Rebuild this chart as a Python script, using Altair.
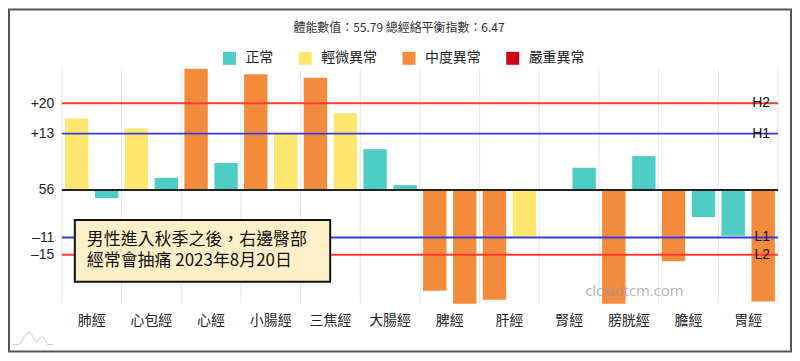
import altair as alt
import pandas as pd

# ---------------- data ----------------
meridians = ["肺經", "心包經", "心經", "小腸經", "三焦經", "大腸經",
             "脾經", "肝經", "腎經", "膀胱經", "膽經", "胃經"]
left_values = [16.5, 14.2, 28.0, 26.7, 25.9, 9.4, -23.3, -25.4, 0.0, -26.3, -16.5, -10.6]
left_status = ["輕微異常", "輕微異常", "中度異常", "中度異常", "中度異常", "正常",
               "中度異常", "中度異常", "正常", "中度異常", "中度異常", "正常"]
right_values = [-1.9, 2.8, 6.2, 12.9, 17.7, 1.1, -26.3, -11.1, 5.1, 7.8, -6.3, -25.8]
right_status = ["正常", "正常", "正常", "輕微異常", "輕微異常", "正常",
                "中度異常", "輕微異常", "正常", "正常", "正常", "中度異常"]

status_names = ["正常", "輕微異常", "中度異常", "嚴重異常"]
status_colors = ["#4ECDC4", "#FFE66D", "#F38B3C", "#D0021B"]

ref_values = [20, 13, 0, -11, -15]
ref_axis_labels = ["+20", "+13", "56", "–11", "–15"]
ref_line_labels = ["H2", "H1", "", "L1", "L2"]
ref_colors = ["#FF3B30", "#3A3AE0", "#222222", "#3A3AE0", "#FF3B30"]

title_text = "體能數值：55.79 總經絡平衡指數：6.47"
note_lines = ["男性進入秋季之後，右邊臀部", "經常會抽痛 2023年8月20日"]
watermark_text = "cloudtcm.com"

CJK = "Noto Sans CJK TC"
LAT = "Liberation Sans"

# ---------------- tables ----------------
bars = pd.DataFrame({
    "meridian": meridians * 2,
    "side": ["L"] * len(meridians) + ["R"] * len(meridians),
    "value": left_values + right_values,
    "status": left_status + right_status,
})
refs = pd.DataFrame({"value": ref_values, "color": ref_colors, "label": ref_line_labels})
grid = pd.DataFrame({"meridian": meridians})
one = pd.DataFrame({"a": [0]})

label_expr = "".join(
    f"datum.value == {v} ? '{t}' : " for v, t in zip(ref_values, ref_axis_labels)
) + "''"

y_scale = alt.Scale(domain=[-26.3, 28.1], nice=False, zero=False)
y_axis = alt.Axis(title=None, values=ref_values, labelExpr=label_expr, domain=False,
                  ticks=False, grid=False, labelFontSize=14, labelFont=LAT,
                  labelColor="#222", labelPadding=8)
x_scale = alt.Scale(paddingInner=0, paddingOuter=0)
x_axis = alt.Axis(title=None, labelAngle=0, domain=False, ticks=False, grid=False,
                  labelFontSize=14, labelFont=CJK, labelColor="#222", labelPadding=10)

gridlines = alt.Chart(grid).mark_rule(color="#e6e6e6", strokeWidth=1).encode(
    x=alt.X("meridian:N", sort=meridians, bandPosition=0, scale=x_scale, axis=x_axis)
)
last_grid = alt.Chart(one).mark_rule(color="#e6e6e6", strokeWidth=1).encode(
    x=alt.value(718), y=alt.value(0), y2=alt.value(236)
)

bar_layer = alt.Chart(bars).mark_bar().encode(
    x=alt.X("meridian:N", sort=meridians, scale=x_scale, axis=x_axis),
    xOffset=alt.XOffset("side:N", scale=alt.Scale(paddingInner=0.22, paddingOuter=0.105)),
    y=alt.Y("value:Q", scale=y_scale, axis=y_axis),
    y2=alt.datum(0),
    color=alt.Color("status:N", scale=alt.Scale(domain=status_names, range=status_colors),
                    legend=alt.Legend(title=None, orient="none", direction="horizontal",
                                      legendX=161, legendY=-17, symbolType="square",
                                      symbolSize=169, symbolStrokeWidth=0,
                                      labelFontSize=14, labelFont=CJK, labelColor="#222",
                                      labelOffset=9, columnPadding=25, padding=0)),
)

ref_layer = alt.Chart(refs).mark_rule(strokeWidth=2).encode(
    y=alt.Y("value:Q", scale=y_scale, axis=y_axis),
    color=alt.Color("color:N", scale=None),
)

ref_text = alt.Chart(refs).mark_text(align="right", baseline="middle", fontSize=14,
                                     font=LAT, color="#111").encode(
    y=alt.Y("value:Q", scale=y_scale, axis=y_axis),
    x=alt.value(710),
    text="label:N",
)

title_layer = alt.Chart(one).mark_text(align="center", baseline="middle", fontSize=12,
                                       font=CJK, color="#333").encode(
    x=alt.value(338), y=alt.value(-40), text=alt.value(title_text)
)

note_box = alt.Chart(one).mark_rect(fill="#FDF0C8", stroke="#111", strokeWidth=2).encode(
    x=alt.value(13), x2=alt.value(269), y=alt.value(152), y2=alt.value(214)
)
note_text = alt.Chart(one).mark_text(align="left", baseline="top", fontSize=17,
                                     font=CJK, color="#111", lineHeight=21.6).encode(
    x=alt.value(25), y=alt.value(164), text=alt.value(note_lines)
)

watermark = alt.Chart(one).mark_text(align="center", baseline="middle", fontSize=15,
                                     font="Open Sans", color="#9a9a9a", opacity=0.75).encode(
    x=alt.value(574), y=alt.value(223), text=alt.value(watermark_text)
)

logo = alt.Chart(one).mark_point(
    shape="M-1,0.25 L-0.75,0.25 C-0.55,0.25 -0.45,-0.35 -0.2,-0.35 C0.0,-0.35 0.05,0.15 0.2,0.1 "
          "C0.3,0.05 0.35,-0.15 0.45,-0.15 C0.6,-0.15 0.62,0.25 0.8,0.25 L1,0.25",
    size=1600, filled=False, stroke="#b0b0b0", strokeWidth=1
).encode(x=alt.value(-29), y=alt.value(272))

frame = alt.Chart(one).mark_rect(fill=None, stroke="#555", strokeWidth=2).encode(
    x=alt.value(-53), x2=alt.value(731), y=alt.value(-59), y2=alt.value(284)
)

chart = alt.layer(
    gridlines, last_grid, bar_layer, ref_layer, ref_text, note_box, note_text,
    watermark, title_layer, logo, frame
).properties(
    width=718, height=236,
    padding={"left": 54, "top": 60, "right": 14, "bottom": 49},
    autosize=alt.AutoSizeParams(type="none"),
).configure_view(stroke=None)

chart.save("out.html", embed_options={"renderer": "svg", "actions": False})
